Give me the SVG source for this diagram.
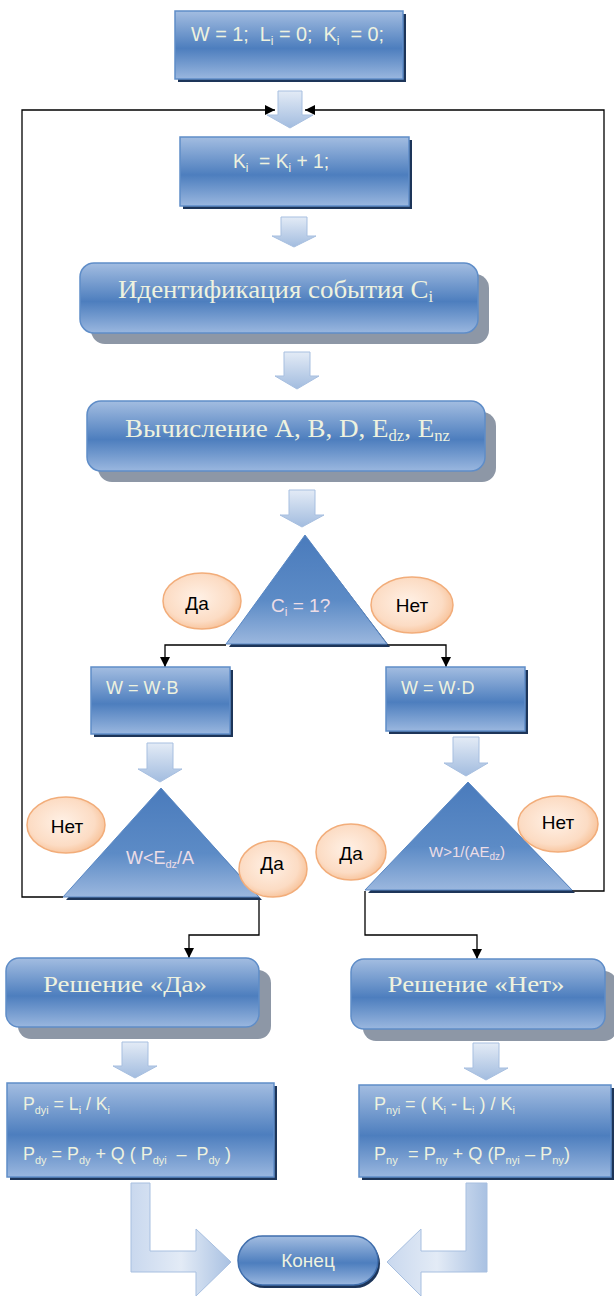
<svg xmlns="http://www.w3.org/2000/svg" width="614" height="1297" viewBox="0 0 614 1297">
<defs>
<linearGradient id="gBox" x1="0" y1="0" x2="0" y2="1">
<stop offset="0" stop-color="#a3bde1"/>
<stop offset="0.55" stop-color="#4d7ebe"/>
<stop offset="1" stop-color="#9ab7df"/>
</linearGradient>
<linearGradient id="gTri" x1="0" y1="0" x2="0" y2="1">
<stop offset="0" stop-color="#4a7bbc"/>
<stop offset="0.6" stop-color="#5c8bc6"/>
<stop offset="1" stop-color="#9bb7de"/>
</linearGradient>
<linearGradient id="gArr" x1="0" y1="0" x2="0" y2="1">
<stop offset="0" stop-color="#e3ebf6"/>
<stop offset="1" stop-color="#a2bcdf"/>
</linearGradient>
<linearGradient id="gArrH" x1="0" y1="0" x2="1" y2="0">
<stop offset="0" stop-color="#c9d8ee"/>
<stop offset="0.5" stop-color="#e3ebf6"/>
<stop offset="1" stop-color="#a9c1e2"/>
</linearGradient>
<radialGradient id="gEll" cx="0.45" cy="0.45" r="0.6">
<stop offset="0" stop-color="#fff1e6"/>
<stop offset="0.7" stop-color="#fcdcc4"/>
<stop offset="1" stop-color="#f7bf94"/>
</radialGradient>
<marker id="ah" viewBox="0 0 10 10" refX="10" refY="5" markerWidth="10" markerHeight="10" markerUnits="userSpaceOnUse" orient="auto">
<path d="M0,0 L10,5 L0,10 Z" fill="#000"/>
</marker>
</defs>
<style>
.box{fill:url(#gBox);stroke:#5f8dc8;stroke-width:1.5}
.sh{fill:#1d3559}
.shg{fill:#8d97a6}
.tri{fill:url(#gTri);stroke:#5a88c4;stroke-width:1}
.arr{fill:url(#gArr);stroke:#a7bfe0;stroke-width:1}
.arrL{fill:url(#gArrH);stroke:#a7bfe0;stroke-width:1}
.ell{fill:url(#gEll);stroke:#f2ad7a;stroke-width:1.5}
.t{font-family:"Liberation Sans",Arial,sans-serif;fill:#eef2df}
.ts{font-family:"Liberation Serif","Times New Roman",serif;fill:#eef2df}
.tt{font-family:"Liberation Sans",Arial,sans-serif;fill:#ecdde6}
.te{font-family:"Liberation Sans",Arial,sans-serif;fill:#000;font-size:19px;text-anchor:middle}
.c{fill:none;stroke:#000;stroke-width:1.3}
</style>

<g id="connectors">
<polyline class="c" points="63,897 22,897 22,110 275,110" marker-end="url(#ah)"/>
<polyline class="c" points="572,891 604,891 604,110 305,110" marker-end="url(#ah)"/>
<polyline class="c" points="226,645 165,645 165,667" marker-end="url(#ah)"/>
<polyline class="c" points="387,645 446,645 446,667" marker-end="url(#ah)"/>
<polyline class="c" points="259,898 259,935 189,935 189,958" marker-end="url(#ah)"/>
<polyline class="c" points="365,891 365,935 477,935 477,959" marker-end="url(#ah)"/>
</g>

<g id="flow-arrows">
<path class="arr" d="M278,91 H302 V115 H313 L290,128 L267,115 H278 Z"/>
<path class="arr" d="M281,217 H307 V236 H316 L294,247 L272,236 H281 Z"/>
<path class="arr" d="M284,352 H310 V376 H319 L297,389 L275,376 H284 Z"/>
<path class="arr" d="M289,490 H315 V515 H324 L302,527 L280,515 H289 Z"/>
<path class="arr" d="M147,743 H173 V769 H182 L160,782 L138,769 H147 Z"/>
<path class="arr" d="M453,737 H479 V763 H488 L466,776 L444,763 H453 Z"/>
<path class="arr" d="M122,1042 H148 V1066 H157 L135,1078 L113,1066 H122 Z"/>
<path class="arr" d="M473,1043 H499 V1068 H508 L486,1080 L464,1068 H473 Z"/>
<path class="arrL" d="M131,1183 H150 V1251 H196 V1229 L231,1262 L196,1296 V1272 H131 Z"/>
<path class="arrL" d="M466,1183 H487 V1272 H421 V1296 L387,1262 L421,1229 V1251 H466 Z"/>
</g>

<g id="init">
<rect class="sh" x="178" y="14" width="228" height="68"/>
<rect class="box" x="175" y="11" width="228" height="68"/>
<text class="t" x="191" y="41" font-size="20" xml:space="preserve" textLength="193" lengthAdjust="spacingAndGlyphs">W = 1;  L<tspan font-size="12" dy="4">i</tspan><tspan dy="-4"> = 0;  K</tspan><tspan font-size="12" dy="4">i</tspan><tspan dy="-4">  = 0;</tspan></text>
</g>

<g id="increment">
<rect class="sh" x="183" y="140" width="229" height="69"/>
<rect class="box" x="180" y="137" width="229" height="69"/>
<text class="t" x="233" y="168" font-size="20" xml:space="preserve" textLength="96" lengthAdjust="spacingAndGlyphs">K<tspan font-size="12" dy="4">i</tspan><tspan dy="-4">  = K</tspan><tspan font-size="12" dy="4">i</tspan><tspan dy="-4"> + 1;</tspan></text>
</g>

<g id="identify">
<rect class="shg" x="91" y="274" width="398" height="70" rx="14"/>
<rect class="box" x="80" y="263" width="398" height="70" rx="14"/>
<text class="ts" x="118" y="298" font-size="26" textLength="315" lengthAdjust="spacingAndGlyphs">Идентификация события C<tspan font-size="16" dy="4">i</tspan></text>
</g>

<g id="compute">
<rect class="shg" x="98" y="412" width="398" height="70" rx="14"/>
<rect class="box" x="87" y="401" width="398" height="70" rx="14"/>
<text class="ts" x="125" y="437" font-size="26" textLength="325" lengthAdjust="spacingAndGlyphs">Вычисление A, B, D, E<tspan font-size="16" dy="4">dz</tspan><tspan dy="-4">, E</tspan><tspan font-size="16" dy="4">nz</tspan></text>
</g>

<g id="decision1">
<polygon class="sh" points="307,538 390,647 229,647"/>
<polygon class="tri" points="305,535 387,644 226,644"/>
<text class="tt" x="271" y="612" font-size="19" xml:space="preserve">C<tspan font-size="12" dy="4">i</tspan><tspan dy="-4"> = 1?</tspan></text>
</g>

<g id="label-da1">
<ellipse class="ell" cx="202" cy="601" rx="39" ry="28"/>
<text class="te" x="197" y="610">Да</text>
</g>
<g id="label-net1">
<ellipse class="ell" cx="412" cy="605" rx="41" ry="28"/>
<text class="te" x="412" y="612">Нет</text>
</g>

<g id="wb">
<rect class="sh" x="94" y="670" width="139" height="67"/>
<rect class="box" x="91" y="667" width="139" height="67"/>
<text class="t" x="106" y="694" font-size="18">W = W·B</text>
</g>

<g id="wd">
<rect class="sh" x="389" y="670" width="139" height="64"/>
<rect class="box" x="386" y="667" width="139" height="64"/>
<text class="t" x="401" y="694" font-size="18">W = W·D</text>
</g>

<g id="decision2">
<polygon class="sh" points="163,791 262,900 66,900"/>
<polygon class="tri" points="161,788 259,897 63,897"/>
<text class="tt" x="160" y="864" font-size="18" text-anchor="middle">W&lt;E<tspan font-size="11" dy="4">dz</tspan><tspan dy="-4">/A</tspan></text>
</g>

<g id="decision3">
<polygon class="sh" points="470,785 575,893 368,893"/>
<polygon class="tri" points="468,782 572,890 365,890"/>
<text class="tt" x="467" y="857" font-size="15" text-anchor="middle">W&gt;1/(AE<tspan font-size="10" dy="3">dz</tspan><tspan dy="-3">)</tspan></text>
</g>

<g id="label-net2">
<ellipse class="ell" cx="66" cy="825" rx="39" ry="28"/>
<text class="te" x="67" y="833">Нет</text>
</g>
<g id="label-da2">
<ellipse class="ell" cx="273" cy="869" rx="34" ry="28"/>
<text class="te" x="272" y="870">Да</text>
</g>
<g id="label-da3">
<ellipse class="ell" cx="351" cy="852" rx="35" ry="28"/>
<text class="te" x="351" y="860">Да</text>
</g>
<g id="label-net3">
<ellipse class="ell" cx="558" cy="824" rx="40" ry="28"/>
<text class="te" x="558" y="829">Нет</text>
</g>

<g id="decision-da">
<rect class="shg" x="18" y="970" width="253" height="69" rx="13"/>
<rect class="box" x="6" y="958" width="253" height="69" rx="13"/>
<text class="ts" x="125" y="992" font-size="24" text-anchor="middle" textLength="164" lengthAdjust="spacingAndGlyphs">Решение «Да»</text>
</g>

<g id="decision-net">
<rect class="shg" x="363" y="971" width="254" height="70" rx="13"/>
<rect class="box" x="351" y="959" width="254" height="70" rx="13"/>
<text class="ts" x="476" y="992" font-size="24" text-anchor="middle" textLength="177" lengthAdjust="spacingAndGlyphs">Решение «Нет»</text>
</g>

<g id="calc-da">
<rect class="sh" x="10" y="1086" width="267" height="94"/>
<rect class="box" x="7" y="1083" width="267" height="94"/>
<text class="t" x="23" y="1110" font-size="18" xml:space="preserve" textLength="87" lengthAdjust="spacingAndGlyphs">P<tspan font-size="11" dy="4">dyi</tspan><tspan dy="-4"> = L</tspan><tspan font-size="11" dy="4">i</tspan><tspan dy="-4"> / K</tspan><tspan font-size="11" dy="4">i</tspan></text>
<text class="t" x="23" y="1160" font-size="18" xml:space="preserve" textLength="208" lengthAdjust="spacingAndGlyphs">P<tspan font-size="11" dy="4">dy</tspan><tspan dy="-4"> = P</tspan><tspan font-size="11" dy="4">dy</tspan><tspan dy="-4"> + Q ( P</tspan><tspan font-size="11" dy="4">dyi</tspan><tspan dy="-4">  –  P</tspan><tspan font-size="11" dy="4">dy</tspan><tspan dy="-4"> )</tspan></text>
</g>

<g id="calc-net">
<rect class="sh" x="362" y="1088" width="252" height="92"/>
<rect class="box" x="359" y="1085" width="252" height="92"/>
<text class="t" x="374" y="1110" font-size="18" xml:space="preserve" textLength="141" lengthAdjust="spacingAndGlyphs">P<tspan font-size="11" dy="4">nyi</tspan><tspan dy="-4"> = ( K</tspan><tspan font-size="11" dy="4">i</tspan><tspan dy="-4"> - L</tspan><tspan font-size="11" dy="4">i</tspan><tspan dy="-4"> ) / K</tspan><tspan font-size="11" dy="4">i</tspan></text>
<text class="t" x="374" y="1160" font-size="18" xml:space="preserve" textLength="196" lengthAdjust="spacingAndGlyphs">P<tspan font-size="11" dy="4">ny</tspan><tspan dy="-4">  = P</tspan><tspan font-size="11" dy="4">ny</tspan><tspan dy="-4"> + Q (P</tspan><tspan font-size="11" dy="4">nyi</tspan><tspan dy="-4"> – P</tspan><tspan font-size="11" dy="4">ny</tspan><tspan dy="-4">)</tspan></text>
</g>

<g id="end">
<rect class="sh" x="240" y="1239" width="140" height="49" rx="24.5"/>
<rect class="box" x="238" y="1236" width="140" height="49" rx="24.5" style="stroke:#3f6ead"/>
<text class="t" x="308" y="1267" font-size="19" text-anchor="middle">Конец</text>
</g>
</svg>
